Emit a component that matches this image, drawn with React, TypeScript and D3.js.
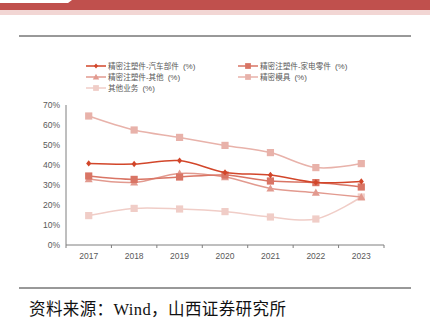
import React from "react";
import * as d3 from "d3";

const years = ["2017", "2018", "2019", "2020", "2021", "2022", "2023"];
const autoParts = [40.8, 40.5, 42.2, 36.3, 35.0, 31.3, 31.8];
const appliance = [34.5, 32.8, 34.0, 35.0, 32.0, 31.2, 29.0];
const otherMold = [33.0, 31.3, 35.8, 34.0, 28.3, 26.2, 24.0];
const molds = [64.5, 57.5, 53.8, 49.8, 46.2, 38.7, 40.7];
const otherBiz = [14.7, 18.3, 18.0, 16.7, 14.0, 13.0, 24.0];
const yTicks = [0, 10, 20, 30, 40, 50, 60, 70];

const seriesNames = [
  "精密注塑件-汽车部件",
  "精密注塑件-家电零件",
  "精密注塑件-其他",
  "精密模具",
  "其他业务",
];
const unitLabel = "(%)";

export default function App() {
  const W = 430, H = 330;
  const x = d3.scaleBand().domain(years).range([66, 384]);
  const y = d3.scaleLinear().domain([0, 70]).range([245, 105]);
  const line = d3
    .line<number>()
    .x((_, i) => (x(years[i]) as number) + x.bandwidth() / 2)
    .y((d) => y(d))
    .curve(d3.curveCatmullRom.alpha(0.5));

  const series = [
    { name: seriesNames[0], data: autoParts, color: "#d2462a", marker: "diamond" },
    { name: seriesNames[1], data: appliance, color: "#d97565", marker: "square" },
    { name: seriesNames[2], data: otherMold, color: "#e29a8f", marker: "triangle" },
    { name: seriesNames[3], data: molds, color: "#e8b2aa", marker: "square" },
    { name: seriesNames[4], data: otherBiz, color: "#f0cdc7", marker: "square" },
  ];

  const marker = (type: string, cx: number, cy: number, color: string, key: any, s = 1) => {
    if (type === "square") {
      const h = 3.6 * s;
      return <rect key={key} x={cx - h} y={cy - h} width={2 * h} height={2 * h} fill={color} />;
    }
    if (type === "triangle") {
      const h = 4 * s;
      return (
        <path key={key} d={`M${cx},${cy - h} L${cx + h},${cy + h * 0.8} L${cx - h},${cy + h * 0.8} Z`} fill={color} />
      );
    }
    const h = 3.2 * s;
    return (
      <path key={key} d={`M${cx},${cy - h} L${cx + h * 0.8},${cy} L${cx},${cy + h} L${cx - h * 0.8},${cy} Z`} fill={color} />
    );
  };

  const legendPos = [
    [86, 66],
    [238, 66],
    [86, 77],
    [238, 77],
    [86, 88],
  ];

  const font = "Arial, 'Liberation Sans', 'Noto Sans CJK SC', sans-serif";
  const drawOrder = [4, 3, 2, 1, 0];

  return (
    <svg width={W} height={H} style={{ position: "absolute", left: 0, top: 0 }} fontFamily={font}>
      <rect x={0} y={0} width={W} height={H} fill="#fff" />
      <rect x={0} y={10} width={W} height={5} fill="#f2d6d4" />
      <path d="M0,3 L68,3 L72,0 L430,0 L430,10 L0,10 Z" fill="#c0504d" />
      <line x1={19} x2={411} y1={36} y2={36} stroke="#333" strokeWidth={1} />

      {series.map((s, i) => {
        const [lx, ly] = legendPos[i];
        return (
          <g key={s.name}>
            <line x1={lx} x2={lx + 20} y1={ly} y2={ly} stroke={s.color} strokeWidth={1.5} />
            {marker(s.marker, lx + 10, ly, s.color, "m", 0.8)}
            <text x={lx + 22} y={ly + 2.7} fontSize={7.6} fill="#595959">
              {s.name}
              <tspan dx={4} fontSize={8}>{unitLabel}</tspan>
            </text>
          </g>
        );
      })}

      <line x1={66} x2={66} y1={105} y2={245} stroke="#7f7f7f" strokeWidth={1} />
      <line x1={66} x2={384} y1={245} y2={245} stroke="#7f7f7f" strokeWidth={1} />
      {years.map((yr, i) => (
        <line key={"t" + i} x1={x(yr) as number} x2={x(yr) as number} y1={245} y2={248} stroke="#7f7f7f" />
      ))}
      <line x1={384} x2={384} y1={245} y2={248} stroke="#7f7f7f" />
      {yTicks.map((t) => (
        <text key={t} x={60} y={y(t) + 3} fontSize={8.5} fill="#595959" textAnchor="end">
          {t}%
        </text>
      ))}
      {years.map((yr) => (
        <text key={yr} x={(x(yr) as number) + x.bandwidth() / 2} y={258.5} fontSize={8.5} fill="#595959" textAnchor="middle">
          {yr}
        </text>
      ))}

      {drawOrder.map((i) => {
        const s = series[i];
        return (
          <g key={s.name}>
            <path d={line(s.data) as string} fill="none" stroke={s.color} strokeWidth={1.5} />
            {s.data.map((v, j) =>
              marker(s.marker, (x(years[j]) as number) + x.bandwidth() / 2, y(v), s.color, j)
            )}
          </g>
        );
      })}

      <line x1={19} x2={411} y1={288} y2={288} stroke="#333" strokeWidth={1} />
      <text x={29} y={315} fontSize={16.5} letterSpacing={0.4} fill="#111" fontFamily="'Liberation Serif', 'Noto Sans CJK SC', serif">
        资料来源：Wind，山西证券研究所
      </text>
    </svg>
  );
}
